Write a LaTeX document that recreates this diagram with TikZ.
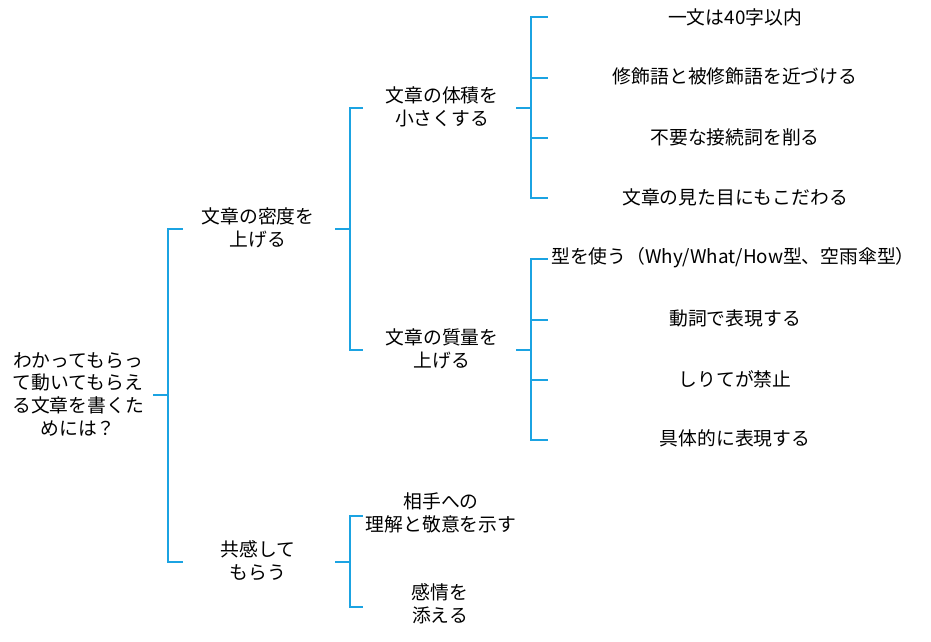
\documentclass[tikz,border=0pt]{standalone}
\usepackage{fontspec}
\setmainfont{Noto Sans CJK JP}
\definecolor{treeblue}{RGB}{27,163,226}
\begin{document}
\begin{tikzpicture}[x=1pt,y=-1pt,
      lbl/.style={align=center,inner sep=0pt,font=\fontsize{18.8}{22.7}\selectfont},
      link/.style={draw=treeblue,line width=1.3pt}
    ]
      \useasboundingbox (0,0) rectangle (931,642);
      % root and first level
      \node[lbl] (root) at (78,394) {わかってもらっ\\て動いてもらえ\\る文章を書くた\\めには？};
      \node[lbl] (dense) at (258,228) {文章の密度を\\上げる};
      \node[lbl] (empathy) at (258,561) {共感して\\もらう};

      % second level
      \node[lbl] (volume) at (442,107) {文章の体積を\\小さくする};
      \node[lbl] (quality) at (442,349) {文章の質量を\\上げる};
      \node[lbl] (respect) at (441,513) {相手への\\理解と敬意を示す};
      \node[lbl] (feeling) at (440,604) {感情を\\添える};

      % leaves
      \node[lbl] (len40) at (735,17) {一文は40字以内};
      \node[lbl] (modif) at (735,76) {修飾語と被修飾語を近づける};
      \node[lbl] (conj) at (735,137) {不要な接続詞を削る};
      \node[lbl] (looks) at (735,197) {文章の見た目にもこだわる};
      \node[lbl] (form) at (733,258) {型を使う（Why/What/How型、空雨傘型）};
      \node[lbl] (verb) at (735,318) {動詞で表現する};
      \node[lbl] (shirite) at (735,379) {しりてが禁止};
      \node[lbl] (concrete) at (735,438) {具体的に表現する};

      % stub ends
      \coordinate (root-out) at (153,395);
      \coordinate (dense-in) at (183,229);
      \coordinate (empathy-in) at (183,562);
      \coordinate (dense-out) at (335,229);
      \coordinate (empathy-out) at (335,562);
      \coordinate (volume-in) at (363,108);
      \coordinate (quality-in) at (363,350);
      \coordinate (respect-in) at (363,516);
      \coordinate (feeling-in) at (363,607);
      \coordinate (volume-out) at (516,108);
      \coordinate (quality-out) at (516,350);
      \coordinate (len40-in) at (548,17);
      \coordinate (modif-in) at (548,78);
      \coordinate (conj-in) at (548,138);
      \coordinate (looks-in) at (548,198);
      \coordinate (form-in) at (548,259);
      \coordinate (verb-in) at (548,320);
      \coordinate (shirite-in) at (548,380);
      \coordinate (concrete-in) at (548,440);

      \draw[link] (root-out) -- ++(15,0) |- (dense-in);
      \draw[link] (root-out) -- ++(15,0) |- (empathy-in);
      \draw[link] (dense-out) -- ++(15,0) |- (volume-in);
      \draw[link] (dense-out) -- ++(15,0) |- (quality-in);
      \draw[link] (empathy-out) -- ++(15,0) |- (respect-in);
      \draw[link] (empathy-out) -- ++(15,0) |- (feeling-in);
      \draw[link] (volume-out) -- ++(15,0) |- (len40-in);
      \draw[link] (volume-out) -- ++(15,0) |- (modif-in);
      \draw[link] (volume-out) -- ++(15,0) |- (conj-in);
      \draw[link] (volume-out) -- ++(15,0) |- (looks-in);
      \draw[link] (quality-out) -- ++(15,0) |- (form-in);
      \draw[link] (quality-out) -- ++(15,0) |- (verb-in);
      \draw[link] (quality-out) -- ++(15,0) |- (shirite-in);
      \draw[link] (quality-out) -- ++(15,0) |- (concrete-in);
    \end{tikzpicture}
\end{document}
